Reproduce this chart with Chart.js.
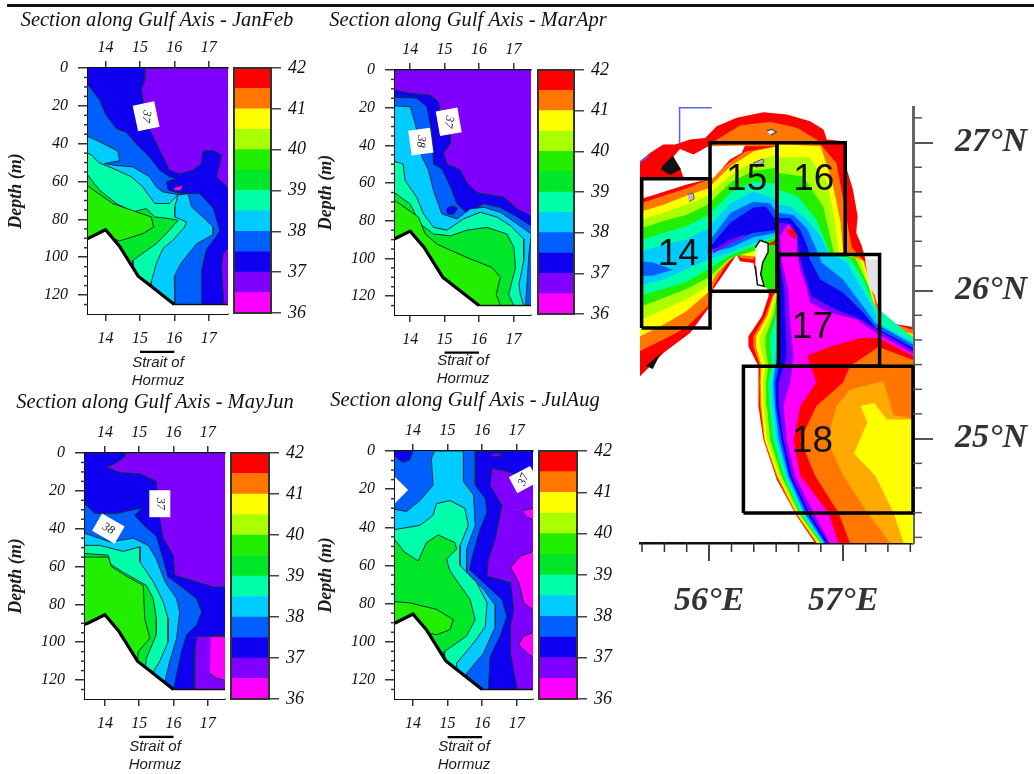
<!DOCTYPE html>
<html>
<head>
<meta charset="utf-8">
<title>Section along Gulf Axis</title>
<script src="https://cdn.jsdelivr.net/npm/chart.js@4"></script>
<style>
    html, body { margin: 0; padding: 0; background: #fff; }
    body { width: 1034px; height: 774px; position: relative; overflow: hidden; }
    #topRule { position: absolute; left: 7px; right: 0; top: 4px; height: 3px; background: #111; }
    .box { position: absolute; }
    .box canvas { filter: blur(0.7px); }
</style>
</head>
<body>
<div id="topRule"></div>
<script>
// salinity scale
const scaleEdges = [36, 36.5, 37, 37.5, 38, 38.5, 39, 39.5, 40, 40.5, 41, 41.5, 42];
const scaleColors = ['#ff00ff', '#8000ff', '#1000f0', '#0060ff', '#00ccff', '#00ffaa', '#00e628', '#22ee00', '#aaff00', '#ffff00', '#ff7700', '#ff0000'];
const scaleTicks = [36, 37, 38, 39, 40, 41, 42];

const sectionTicks = [14, 15, 16, 17];
const depthTicks = [0, 20, 40, 60, 80, 100, 120];
const depthMinor = [5, 10, 15, 25, 30, 35, 45, 50, 55, 65, 70, 75, 85, 90, 95, 105, 110, 115, 125];

// sea bed along the section
const seabedLine = [13.3, 91, 13.5, 90, 14, 85.5, 14.4, 94, 14.95, 110, 15.3, 115, 16, 125];
const seabedFloor = [16, 125, 17.7, 125];
const seabedFill = [13.3, 91, 13.5, 90, 14, 85.5, 14.4, 94, 14.95, 110, 15.3, 115, 16, 125, 17.7, 125, 17.7, 131, 13.3, 131];

// JanFeb contours, [section, depth] pairs
const janFebBack = [13.3, 0, 17.7, 0, 17.7, 125, 13.3, 125];
const janFeb37 = [15.14, 0, 15.14, 6.5, 15.04, 11, 15.09, 17, 15.18, 29, 15.43, 38, 15.67, 47, 15.86, 54, 16.16, 56, 16.54, 54, 16.79, 50.5, 16.83, 44, 17.13, 43.5, 17.37, 46, 17.32, 50.5, 17.22, 57.5, 17.7, 65.5, 17.7, 93, 17.42, 98, 17.37, 105, 17.44, 125, 13.3, 125, 13.3, 0];
const janFebSpot = [16.01, 63, 16.25, 62, 16.2, 64.6, 16.01, 65];
const janFeb375 = [13.3, 5, 13.58, 11, 13.83, 17, 14.02, 25, 14.31, 32, 14.6, 34, 14.94, 41, 15.28, 47, 15.57, 54, 15.86, 57.5, 16.06, 58.5, 15.77, 60, 15.82, 64.5, 16.2, 66.4, 16.74, 66.4, 17.13, 74, 17.32, 86, 17.22, 89, 16.93, 96, 16.79, 107, 16.79, 125, 13.3, 125];
const janFeb38 = [13.3, 34.7, 13.83, 39, 14.36, 44, 14.41, 49, 13.97, 50.5, 14.26, 51.4, 14.8, 52.3, 15.28, 57.5, 15.48, 63, 15.67, 65.5, 15.96, 66.4, 16.16, 67, 16.4, 66.4, 16.5, 73.4, 16.83, 78.7, 17.13, 84, 17.13, 88, 16.64, 93, 16.2, 103, 16, 110, 16.01, 125, 13.3, 125];
const janFeb385 = [13.3, 43.5, 13.6, 46, 13.8, 50, 14.21, 53, 14.75, 57.5, 15.09, 63, 15.43, 71.6, 15.86, 71.6, 16.11, 67, 16.01, 73.4, 16.01, 78.7, 16.35, 81.3, 16.3, 84, 15.96, 91, 15.67, 95.4, 15.48, 103, 15.33, 113, 15.33, 125, 13.3, 125];
const janFeb39 = [13.3, 52, 13.49, 56.7, 13.83, 64.6, 14.31, 71.6, 14.8, 76, 15.18, 74.3, 15.43, 78.7, 15.86, 79.6, 16.11, 80.5, 15.86, 85.7, 15.48, 92.8, 14.8, 101.6, 14.8, 125, 13.3, 125];
const janFeb395 = [13.3, 60, 14.21, 71.6, 14.89, 76, 15.33, 78.7, 15.4, 84, 15.09, 87.5, 14.41, 91.4, 13.83, 87.5, 13.3, 92];

// MarApr contours
const marAprBack = [13.3, 0, 17.7, 0, 17.7, 125, 13.3, 125];
const marApr37 = [13.3, 9.8, 14, 12.4, 14.58, 13.3, 14.83, 17, 14.87, 23, 15.17, 32, 15.17, 39, 14.97, 44, 15.07, 50, 15.46, 53, 15.65, 60, 15.94, 65, 16.72, 67.5, 17.11, 73.7, 17.7, 79, 17.7, 125, 13.3, 125];
const marApr375 = [13.3, 14.2, 14.19, 15, 14.49, 19.5, 14.63, 33.7, 14.68, 50, 14.92, 52.4, 15.17, 62, 15.36, 71, 15.65, 76, 16.14, 71, 16.62, 73, 17.11, 78, 17.7, 85, 17.7, 125, 13.3, 125];
const marAprSpot = [15.05, 74, 15.2, 72, 15.39, 73.3, 15.24, 76.7, 15.08, 76.4];
const marApr38 = [13.3, 18.7, 14, 19.5, 14.15, 28.4, 14.34, 46, 14.53, 53, 14.68, 64, 14.92, 76.4, 15.36, 79, 15.75, 73.7, 16.14, 72.8, 16.62, 75.5, 17.11, 81.7, 17.52, 87, 17.45, 97.7, 17.4, 112, 17.35, 125, 13.3, 125];
const marApr385 = [13.3, 47, 13.8, 50, 13.85, 58.6, 14.19, 67.5, 14.39, 76.4, 14.68, 83.5, 15.07, 85, 15.55, 79, 16.04, 75.5, 16.52, 78, 16.91, 82.6, 17.3, 89.7, 17.3, 101, 17.16, 113.7, 17.2, 119, 17.3, 125, 13.3, 125];
const marApr39 = [13.3, 62, 14, 71, 14.29, 81.7, 14.68, 87, 15.17, 88, 15.65, 85, 16.23, 83.5, 16.81, 87, 17.01, 94, 17.06, 105, 16.86, 119, 17.01, 125, 13.3, 125];
const marApr395 = [13.3, 66, 14.24, 78, 14.44, 87, 14.78, 92.4, 15.65, 99.5, 16.38, 104.8, 16.62, 110, 16.5, 119, 16.62, 125, 13.3, 125];

// MayJun contours
const mayJunBack = [13.3, 0, 17.7, 0, 17.7, 125, 13.3, 125];
const mayJun37 = [14.58, 0, 14.58, 2, 14.29, 5.6, 14.05, 7.4, 14.44, 10.4, 15.02, 11, 15.5, 15, 15.6, 34.7, 15.7, 45, 15.99, 54, 16.04, 64.6, 16.67, 68, 17.15, 70.8, 17.7, 70.8, 17.7, 96.3, 16.67, 97, 16.62, 105, 16.62, 125, 13.3, 125, 13.3, 0];
const mayJun365 = [17.08, 97, 17.7, 97, 17.7, 121, 17.25, 119, 17.06, 116.5];
const mayJun375 = [13.3, 25, 13.71, 32, 14.34, 32, 15.07, 29, 14.87, 33, 15.12, 38, 15.5, 44, 15.7, 56, 15.84, 65.5, 16.18, 70, 16.67, 77, 16.82, 84, 16.67, 91, 16.38, 96, 16.23, 105, 16.09, 117, 16, 125, 13.3, 125];
const mayJun38 = [13.3, 41.7, 14.15, 47, 14.83, 45, 15.26, 48.8, 15.5, 56, 15.75, 68, 16.09, 77, 16.18, 84, 16.09, 98, 15.89, 110, 15.75, 121, 15.7, 125, 13.3, 125];
const mayJun385 = [13.3, 48.8, 13.85, 48.8, 14.53, 52, 15.02, 49.6, 15.02, 57.6, 15.41, 68, 15.7, 78.7, 15.84, 87.5, 15.84, 100, 15.6, 110, 15.41, 115.7, 15.41, 125, 13.3, 125];
const mayJun39 = [13.3, 53, 14.1, 54, 14.15, 58.5, 14.53, 63, 15.02, 68, 15.21, 70, 15.41, 77, 15.5, 87.5, 15.5, 96, 15.21, 108.6, 15.1, 125, 13.3, 125];
const mayJun395 = [13.3, 55, 14.1, 55, 14.19, 60, 14.58, 64.6, 15.12, 70, 15.16, 87.5, 15.31, 98, 14.97, 105, 14.9, 125, 13.3, 125];

// JulAug contours
const julAugBack = [13.3, 0, 17.7, 0, 17.7, 125, 13.3, 125];
const julAug37 = [13.3, 0, 17.7, 0, 17.7, 6.5, 17, 12, 16.28, 9, 16.23, 18, 16.57, 28.5, 16.38, 46, 16.18, 56.7, 16.14, 65.5, 16.82, 69, 16.91, 83, 16.82, 92, 16.82, 106, 17.01, 125, 13.3, 125];
const julAugTop = [16.2, 2, 16.4, 1, 16.6, 2, 16.4, 3];
const julAug375 = [15.8, 0, 15.8, 18, 16.09, 25, 16.14, 32, 15.94, 41, 15.75, 53, 15.63, 62, 16.04, 69, 16.57, 77.8, 16.71, 86.6, 16.52, 97, 16.23, 107.7, 16.18, 125, 13.3, 125, 13.3, 0];
const julAugCorner = [13.3, 0, 14, 0, 13.9, 4.7, 13.71, 6, 13.55, 4];
const julAug38 = [13.3, 30, 13.81, 31.7, 14.2, 26, 14.58, 18, 14.53, 4, 14.63, 0, 15.46, 0, 15.46, 16, 15.75, 23, 15.8, 39, 15.55, 51.4, 15.55, 63.7, 16.04, 72.5, 16.38, 81, 16.38, 92, 16.04, 106, 15.55, 116.5, 15.55, 125, 13.3, 125];
const julAug385 = [13.3, 41.7, 14.2, 39, 14.58, 33.8, 14.68, 27.6, 15.07, 26, 15.5, 30, 15.6, 39, 15.36, 49.6, 15.36, 60, 15.84, 69, 16.14, 79.6, 16.09, 92, 15.75, 100.7, 15.26, 111.3, 15.26, 125, 13.3, 125];
const julAug39 = [13.3, 42.6, 13.76, 53, 14.15, 57.6, 14.39, 48, 14.73, 44, 15.21, 48, 15.26, 51.4, 14.97, 56.7, 15.07, 62.9, 15.65, 77.8, 15.8, 88.4, 15.55, 97, 14.92, 105, 14.9, 125, 13.3, 125];
const julAug395 = [13.3, 78.7, 13.9, 79.6, 14.68, 83, 15.17, 88.4, 15.07, 93.7, 14.68, 96.3, 14.3, 95, 14.3, 125, 13.3, 125];
const julAugLow1 = [17.2, 31, 17.7, 29.4, 17.7, 37.3, 17.3, 34.7];
const julAugLow2 = [17.7, 51.4, 17.11, 55, 16.82, 61, 17.06, 69, 17.2, 79.6, 17.7, 86.6];
const julAugLow3 = [17.7, 93.7, 17.2, 97, 17.06, 101.6, 17.3, 106, 17.7, 110.4];

// map: [lon, lat] pairs
const mapLonTicks = [56, 57];
const mapLatTicks = [25, 26, 27];
const mapLonMinor = [55.5, 55.667, 55.833, 56.167, 56.333, 56.5, 56.667, 56.833, 57.167, 57.333, 57.5];
const mapLatMinor = [24.333, 24.5, 24.667, 24.833, 25.167, 25.333, 25.5, 25.667, 25.833, 26.167, 26.333, 26.5, 26.667, 26.833, 27.167];
const mapCoast = [55.485, 26.874, 55.559, 26.93, 55.659, 26.986, 55.746, 26.986, 55.858, 27.02, 55.97, 27.031, 56.057, 27.11, 56.206, 27.167, 56.405, 27.205, 56.579, 27.189, 56.753, 27.144, 56.853, 27.088, 56.878, 27.02, 57.002, 27.009, 57.027, 26.817, 57.072, 26.682, 57.107, 26.502, 57.097, 26.39, 57.139, 26.3, 57.165, 26.21, 57.19, 26.03, 57.264, 25.894, 57.326, 25.782, 57.512, 25.755, 57.55, 25.489, 57.55, 24.2, 56.79, 24.295, 56.654, 24.475, 56.505, 24.723, 56.405, 24.993, 56.368, 25.219, 56.368, 25.376, 56.368, 25.489, 56.293, 25.624, 56.293, 25.69, 56.393, 25.827, 56.443, 25.962, 56.443, 26.007, 56.355, 26.074, 56.33, 26.187, 56.231, 26.198, 56.206, 26.243, 56.132, 26.142, 56.02, 25.996, 56.007, 25.894, 55.858, 25.714, 55.659, 25.579, 55.485, 25.421, 55.4, 25.421, 55.4, 26.874];

const mapEastOrange = [56.06, 27.02, 56.23, 27.115, 56.455, 27.14, 56.655, 27.10, 56.80, 27.02, 56.95, 26.86, 57.00, 26.615, 57.04, 26.41, 57.065, 26.29, 57.18, 26.175, 57.24, 25.96, 57.28, 25.805, 57.55, 25.725, 57.55, 24.295, 56.80, 24.295, 56.64, 24.50, 56.50, 24.75, 56.41, 24.99, 56.38, 25.22, 56.375, 25.38, 56.38, 25.49, 56.33, 25.62, 56.33, 25.69, 56.42, 25.83, 56.47, 25.96, 56.505, 26.01, 56.505, 26.975, 56.01, 26.975];
const mapEastYellow = [56.52, 26.99, 56.83, 26.975, 56.915, 26.75, 56.98, 26.46, 57.00, 26.255, 57.15, 26.20, 57.23, 25.94, 57.26, 25.77, 57.55, 25.70, 57.55, 24.295, 56.806, 24.295, 56.65, 24.50, 56.51, 24.75, 56.415, 24.99, 56.39, 25.22, 56.385, 25.38, 56.39, 25.49, 56.35, 25.62, 56.35, 25.69, 56.435, 25.83, 56.48, 25.96, 56.52, 26.01];
const mapEastLime = [56.52, 26.90, 56.75, 26.90, 56.88, 26.73, 56.94, 26.46, 56.965, 26.255, 57.13, 26.21, 57.21, 25.96, 57.256, 25.78, 57.55, 25.69, 57.55, 24.295, 56.815, 24.295, 56.655, 24.5, 56.52, 24.75, 56.43, 24.99, 56.405, 25.22, 56.40, 25.38, 56.42, 25.49, 56.38, 25.62, 56.38, 25.69, 56.455, 25.83, 56.49, 25.96, 56.52, 26.01];
const mapEastGreen = [56.52, 26.795, 56.70, 26.77, 56.85, 26.57, 56.93, 26.255, 57.09, 26.22, 57.19, 26.03, 57.25, 25.83, 57.55, 25.67, 57.55, 24.295, 56.83, 24.295, 56.67, 24.5, 56.54, 24.75, 56.455, 24.99, 56.43, 25.22, 56.425, 25.38, 56.44, 25.49, 56.42, 25.62, 56.42, 25.69, 56.48, 25.83, 56.505, 25.96, 56.52, 26.01];
const mapEastTeal = [56.52, 26.68, 56.655, 26.64, 56.80, 26.48, 56.90, 26.255, 57.05, 26.22, 57.15, 26.075, 57.24, 25.89, 57.55, 25.66, 57.55, 24.295, 56.84, 24.295, 56.68, 24.5, 56.555, 24.75, 56.48, 24.99, 56.45, 25.22, 56.44, 25.38, 56.47, 25.49, 56.455, 25.62, 56.455, 25.69, 56.50, 25.83, 56.51, 25.96, 56.52, 26.01];
const mapEastCyan = [56.52, 26.58, 56.605, 26.57, 56.73, 26.48, 56.83, 26.37, 56.89, 26.255, 57.03, 26.19, 57.13, 26.03, 57.23, 25.87, 57.26, 25.78, 57.55, 25.64, 57.55, 24.295, 56.85, 24.295, 56.70, 24.5, 56.575, 24.75, 56.505, 24.99, 56.475, 25.22, 56.47, 25.38, 56.485, 25.49, 56.50, 25.62, 56.51, 25.9];
const mapEastMid = [56.52, 26.525, 56.63, 26.51, 56.73, 26.42, 56.79, 26.30, 56.84, 26.19, 57.00, 26.075, 57.15, 25.89, 57.24, 25.78, 57.55, 25.62, 57.55, 24.295, 56.86, 24.295, 56.71, 24.5, 56.59, 24.75, 56.52, 24.99, 56.49, 25.22, 56.48, 25.38, 56.495, 25.49, 56.52, 25.62];
const mapEastBlue = [56.52, 26.49, 56.605, 26.49, 56.68, 26.41, 56.74, 26.28, 56.75, 26.21, 56.83, 26.075, 57.00, 25.985, 57.15, 25.85, 57.24, 25.75, 57.55, 25.60, 57.55, 24.295, 56.87, 24.295, 56.73, 24.5, 56.60, 24.75, 56.54, 24.99, 56.50, 25.22, 56.495, 25.38, 56.52, 25.49];
const mapEastPurple = [56.52, 26.46, 56.605, 26.45, 56.655, 26.37, 56.67, 26.255, 56.70, 26.14, 56.765, 25.96, 56.95, 25.87, 57.13, 25.805, 57.25, 25.74, 57.55, 25.58, 57.55, 24.295, 56.89, 24.295, 56.745, 24.5, 56.615, 24.75, 56.555, 24.99, 56.52, 25.22, 56.52, 25.38, 56.58, 25.56, 56.57, 25.78, 56.56, 26.01, 56.52, 26.21];
const mapEastMagenta = [56.59, 26.45, 56.655, 26.37, 56.655, 26.255, 56.68, 26.14, 56.73, 26.01, 56.75, 25.92, 56.90, 25.85, 57.10, 25.805, 57.25, 25.71, 57.55, 25.56, 57.55, 24.295, 56.90, 24.295, 56.78, 24.5, 56.64, 24.75, 56.58, 24.99, 56.555, 25.22, 56.605, 25.38, 56.63, 25.56, 56.605, 25.78, 56.59, 26.01, 56.54, 26.21, 56.53, 26.37];
const mapRedSpot = [56.57, 26.41, 56.63, 26.42, 56.655, 26.345, 56.605, 26.37];
const mapSouthRed = [56.73, 25.56, 56.90, 25.62, 57.13, 25.68, 57.26, 25.68, 57.55, 25.545, 57.55, 24.295, 56.965, 24.295, 56.89, 24.5, 56.68, 24.75, 56.63, 24.99, 56.68, 25.22, 56.80, 25.38];
const mapSouthOrange = [57.05, 25.49, 57.20, 25.58, 57.26, 25.62, 57.55, 25.52, 57.55, 24.295, 57.05, 24.295, 56.965, 24.5, 56.79, 24.75, 56.68, 24.99, 56.80, 25.22, 57.00, 25.38];
const mapSouthAmber = [56.95, 25.22, 57.05, 25.33, 57.30, 25.39, 57.375, 25.16, 57.55, 25.13, 57.55, 24.295, 57.35, 24.295, 57.18, 24.5, 57.00, 24.75, 56.88, 24.99];
const mapSouthYellow = [57.13, 25.22, 57.23, 25.24, 57.325, 25.13, 57.55, 25.13, 57.55, 24.295, 57.45, 24.295, 57.375, 24.5, 57.24, 24.75, 57.08, 24.90, 57.18, 25.11];

const mapWestOrange = [55.46, 26.58, 55.66, 26.64, 55.83, 26.69, 55.99, 26.75, 56.16, 26.87, 56.27, 26.94, 56.505, 26.975, 56.505, 26.37, 56.455, 26.345, 56.38, 26.30, 56.33, 26.21, 56.23, 26.22, 56.21, 26.265, 56.12, 26.165, 56.03, 26.03, 56.02, 25.92, 55.83, 25.75, 55.66, 25.67, 55.46, 25.58];
const mapWestYellow = [55.46, 26.525, 55.66, 26.58, 55.83, 26.64, 55.99, 26.69, 56.16, 26.84, 56.33, 26.94, 56.505, 26.975, 56.505, 26.36, 56.405, 26.345, 56.34, 26.23, 56.23, 26.24, 56.19, 26.28, 56.09, 26.165, 56.03, 26.075, 55.99, 25.985, 55.83, 25.86, 55.66, 25.77, 55.46, 25.68];
const mapWestLime = [55.46, 26.47, 55.66, 26.525, 55.83, 26.58, 55.99, 26.64, 56.16, 26.78, 56.33, 26.87, 56.505, 26.92, 56.505, 26.35, 56.37, 26.28, 56.23, 26.255, 56.16, 26.21, 56.06, 26.12, 55.99, 26.03, 55.83, 25.94, 55.66, 25.87, 55.46, 25.79];
const mapWestGreen = [55.46, 26.41, 55.66, 26.47, 55.83, 26.51, 55.99, 26.58, 56.16, 26.73, 56.33, 26.81, 56.505, 26.83, 56.505, 26.345, 56.33, 26.265, 56.16, 26.22, 55.99, 26.085, 55.83, 26.01, 55.66, 25.95, 55.46, 25.88];
const mapWestTeal = [55.46, 26.33, 55.66, 26.39, 55.83, 26.435, 55.99, 26.51, 56.16, 26.66, 56.33, 26.74, 56.505, 26.72, 56.505, 26.36, 56.33, 26.30, 56.16, 26.24, 55.99, 26.14, 55.83, 26.06, 55.66, 26.01, 55.46, 25.96];
const mapWestCyan = [55.46, 26.255, 55.66, 26.31, 55.83, 26.345, 55.99, 26.42, 56.16, 26.59, 56.33, 26.67, 56.505, 26.615, 56.505, 26.37, 56.33, 26.32, 56.16, 26.255, 55.99, 26.21, 55.83, 26.14, 55.66, 26.075, 55.46, 26.03];
const mapWestMidA = [55.46, 26.20, 55.58, 26.19, 55.73, 26.14, 55.58, 26.10, 55.46, 26.10];
const mapWestMidB = [55.99, 26.32, 56.16, 26.525, 56.33, 26.60, 56.455, 26.59, 56.505, 26.525, 56.505, 26.39, 56.33, 26.36, 56.16, 26.29, 55.99, 26.255];
const mapWestBlue = [56.01, 26.30, 56.16, 26.46, 56.33, 26.56, 56.42, 26.57, 56.505, 26.47, 56.505, 26.41, 56.33, 26.39, 56.16, 26.33, 56.03, 26.28];
const mapWestPurple = [56.03, 26.27, 56.16, 26.345, 56.27, 26.38, 56.26, 26.36, 56.16, 26.32, 56.03, 26.25];
const mapStraitGreen = [56.36, 26.31, 56.505, 26.31, 56.505, 26.01, 56.44, 26.01, 56.36, 26.05];

const mapIsland = [55.51, 26.626, 55.51, 26.75, 55.808, 26.768, 55.783, 26.829, 55.684, 26.851, 55.783, 26.957, 55.883, 26.919, 55.995, 26.975, 56.268, 26.98, 56.243, 26.93, 56.156, 26.885, 56.032, 26.761, 55.833, 26.716, 55.559, 26.637];
const mapStraitLand = [56.345, 26.29, 56.38, 26.34, 56.44, 26.32, 56.44, 26.26, 56.40, 26.19, 56.385, 26.11, 56.41, 26.03, 56.36, 26.04, 56.345, 26.165];
const mapLarak = [56.43, 27.08, 56.47, 27.09, 56.5, 27.07, 56.46, 27.05];
const mapRockA = [55.84, 26.65, 55.88, 26.66, 55.89, 26.62, 55.85, 26.60];
const mapRockB = [56.33, 26.86, 56.4, 26.89, 56.41, 26.87, 56.35, 26.83];
const mapRockC = [57.165, 26.21, 57.26, 26.21, 57.26, 25.94, 57.19, 26.03];
const mapBlackA = [55.66, 26.85, 55.73, 26.91, 55.79, 26.82, 55.71, 26.78, 55.64, 26.82];
const mapBlackB = [55.53, 25.49, 55.66, 25.59, 55.63, 25.56, 55.58, 25.47];
const mapBracket = [55.78, 26.995, 55.78, 27.235, 56.02, 27.235];
const mapBracketTail = [55.485, 26.87, 55.55, 26.91];

const boxNames = ['14', '15', '16', '17', '18'];
const boxLon = [[55.497, 56.007], [56.007, 56.505], [56.505, 57.015], [56.517, 57.271], [56.256, 57.52]];
const boxLat = [[25.748, 26.755], [25.995, 26.998], [26.243, 26.998], [25.489, 26.243], [24.498, 25.489]];
const boxLabelLon = [55.77, 56.28, 56.78, 56.77, 56.77];
const boxLabelLat = [26.24, 26.75, 26.75, 25.75, 24.98];

const DARK = '#1c1c1c';
const SERIF = '"Liberation Serif", serif';
const SANS = '"Liberation Sans", sans-serif';
const TITLE_SIZE = 20.5;

const pts = flat => {
    const out = [];
    for (let i = 0; i < flat.length; i += 2) out.push({ x: flat[i], y: flat[i + 1] });
    return out;
};

const colorFor = level => scaleColors[scaleEdges.indexOf(level)];

// rotated white contour labels, plain text, small tick marks and frames
const extrasPlugin = {
    id: 'extras',
    afterDraw(chart, args, opts) {
        const ctx = chart.ctx;
        const area = chart.chartArea;
        const sx = chart.scales.x;
        const sy = chart.scales.y;

        (opts.minorY || []).forEach(v => {
            const y = sy.getPixelForValue(v);
            const x0 = opts.minorYAt === 'right' ? area.right : area.left;
            const len = opts.minorYAt === 'right' ? opts.minorLen : -opts.minorLen;
            ctx.save();
            ctx.strokeStyle = opts.minorColor || '#333';
            ctx.lineWidth = 1.5;
            ctx.beginPath();
            ctx.moveTo(x0, y);
            ctx.lineTo(x0 + len, y);
            ctx.stroke();
            ctx.restore();
        });
        (opts.minorX || []).forEach(v => {
            const x = sx.getPixelForValue(v);
            ctx.save();
            ctx.strokeStyle = '#333';
            ctx.lineWidth = 1.5;
            ctx.beginPath();
            ctx.moveTo(x, area.bottom);
            ctx.lineTo(x, area.bottom + opts.minorLen);
            ctx.stroke();
            ctx.restore();
        });

        (opts.tags || []).forEach(t => {
            ctx.save();
            ctx.beginPath();
            ctx.rect(area.left, area.top, area.width, area.height);
            ctx.clip();
            ctx.translate(sx.getPixelForValue(t.x), sy.getPixelForValue(t.y));
            ctx.rotate(t.boxAngle * Math.PI / 180);
            ctx.fillStyle = '#fff';
            ctx.fillRect(-t.w / 2, -t.h / 2, t.w, t.h);
            if (t.text) {
                ctx.rotate((t.textAngle - t.boxAngle) * Math.PI / 180);
                ctx.fillStyle = '#222';
                ctx.font = 'italic 12px ' + SERIF;
                ctx.textAlign = 'center';
                ctx.textBaseline = 'middle';
                ctx.fillText(t.text, 0, 0);
            }
            ctx.restore();
        });

        (opts.texts || []).forEach(t => {
            ctx.save();
            ctx.fillStyle = '#111';
            ctx.font = t.font;
            ctx.textAlign = 'center';
            ctx.textBaseline = 'middle';
            ctx.fillText(t.text, sx.getPixelForValue(t.x), sy.getPixelForValue(t.y));
            ctx.restore();
        });

        if (opts.frame) {
            ctx.save();
            ctx.strokeStyle = '#333';
            ctx.lineWidth = 2;
            ctx.strokeRect(area.left, area.top, area.width, area.height);
            ctx.restore();
        }
    }
};
Chart.register(extrasPlugin);

function makeCanvas(left, top, width, height) {
    const box = document.createElement('div');
    box.className = 'box';
    box.style.cssText = `left:${left}px;top:${top}px;width:${width}px;height:${height}px;`;
    const canvas = document.createElement('canvas');
    canvas.width = width;
    canvas.height = height;
    canvas.style.cssText = `display:block;width:${width}px;height:${height}px;`;
    box.appendChild(canvas);
    document.body.appendChild(box);
    return canvas;
}

// the axes must not reserve room for overhanging tick labels
function noOverhang(s) {
    s.paddingTop = 0;
    s.paddingBottom = 0;
    s.paddingLeft = 0;
    s.paddingRight = 0;
}

// painter's order: later entries go on top
function polygonSets(list, lineColor, lineWidth) {
    return list.map((item, i) => ({
        data: pts(item.points),
        showLine: true,
        pointRadius: 0,
        fill: item.color ? 'shape' : false,
        backgroundColor: item.color || 'transparent',
        borderColor: item.line || lineColor,
        borderWidth: item.width !== undefined ? item.width : lineWidth,
        order: -i
    }));
}

function sectionPanel(p) {
    const canvas = makeCanvas(p.left, p.top, p.width, p.height);
    const titleH = TITLE_SIZE * 1.2;
    const topAxis = p.plotTop - p.top - titleH;
    const bottomAxis = p.top + p.height - p.plotBottom;
    const bands = p.bands.map(b => ({ points: b[1], color: colorFor(b[0]) }));
    const overlays = [
        { points: seabedFill, color: '#ffffff', width: 0 },
        { points: seabedFloor, line: '#111', width: 1.5 },
        { points: seabedLine, line: '#000', width: 3.2 }
    ];
    const sets = polygonSets(bands.concat(overlays), '#0b3540', 1);
    // bar above the Strait of Hormuz label
    sets.push({
        data: [{ x: 15, y: 150 }, { x: 16, y: 150 }],
        showLine: true, pointRadius: 0, fill: false,
        borderColor: '#000', borderWidth: 2.2, clip: false, order: -500
    });

    const tickFont = { family: SERIF, size: 16, style: 'italic', weight: 'normal' };
    const xAxis = position => ({
        type: 'linear',
        axis: 'x',
        position: position,
        min: p.xMin,
        max: p.xMax,
        z: 1,
        afterBuildTicks: s => { s.ticks = sectionTicks.map(v => ({ value: v })); },
        afterFit: s => {
            s.height = position === 'top' ? topAxis : bottomAxis;
            noOverhang(s);
        },
        grid: { drawOnChartArea: false, tickLength: 7, color: '#333', lineWidth: 1.5 },
        border: { display: true, color: '#111', width: 2 },
        ticks: { color: '#111', font: tickFont, padding: position === 'top' ? 4 : 8, maxRotation: 0, autoSkip: false },
        title: position === 'top' ? { display: false } : {
            display: true,
            text: ['Strait of', 'Hormuz'],
            color: DARK,
            font: { family: SANS, size: 15, style: 'italic' },
            padding: { top: 0, bottom: 0 }
        }
    });

    new Chart(canvas, {
        type: 'scatter',
        data: { datasets: sets },
        options: {
            animation: false,
            responsive: false,
            layout: { padding: 0 },
            plugins: {
                legend: { display: false },
                tooltip: { enabled: false },
                title: {
                    display: true,
                    text: p.title,
                    color: '#111',
                    font: { family: SERIF, size: TITLE_SIZE, style: 'italic', weight: 'normal' },
                    padding: 0
                },
                extras: { minorY: depthMinor, minorLen: 4, tags: p.tags }
            },
            scales: {
                x: xAxis('bottom'),
                xTop: xAxis('top'),
                y: {
                    type: 'linear',
                    reverse: true,
                    min: 0,
                    max: 130,
                    z: 1,
                    afterBuildTicks: s => { s.ticks = depthTicks.map(v => ({ value: v })); },
                    afterFit: s => {
                        s.width = p.plotLeft - p.left;
                        noOverhang(s);
                    },
                    grid: { drawOnChartArea: false, tickLength: 10, color: '#333', lineWidth: 1.5 },
                    border: { display: true, color: '#111', width: 2 },
                    ticks: { color: '#111', font: tickFont, padding: 10, autoSkip: false },
                    title: {
                        display: true,
                        text: 'Depth (m)',
                        color: DARK,
                        font: { family: SERIF, size: 18, style: 'italic', weight: 'bold' },
                        padding: { top: 6, bottom: 0 }
                    }
                },
                // empty axis that keeps the plot short of the colour bar
                gap: {
                    type: 'linear',
                    axis: 'y',
                    position: 'right',
                    afterFit: s => {
                        s.width = p.left + p.width - p.plotRight;
                        noOverhang(s);
                    },
                    grid: { display: false },
                    border: { display: false },
                    ticks: { display: false }
                }
            }
        }
    });
}

function colorBar(b) {
    const canvas = makeCanvas(b.left, b.top - 10, b.width + 50, b.height + 20);
    const sets = scaleColors.map((c, i) => ({
        data: [[scaleEdges[i], scaleEdges[i + 1]]],
        backgroundColor: c,
        borderWidth: 0,
        grouped: false,
        barPercentage: 1,
        categoryPercentage: 1
    }));
    new Chart(canvas, {
        type: 'bar',
        data: { labels: ['salinity'], datasets: sets },
        options: {
            animation: false,
            responsive: false,
            layout: { padding: { top: 10, bottom: 10, left: 1 } },
            plugins: {
                legend: { display: false },
                tooltip: { enabled: false },
                extras: { frame: true }
            },
            scales: {
                x: { display: false },
                y: {
                    position: 'right',
                    min: 36,
                    max: 42,
                    afterBuildTicks: s => { s.ticks = scaleTicks.map(v => ({ value: v })); },
                    afterFit: s => {
                        s.width = 49;
                        noOverhang(s);
                    },
                    grid: { drawOnChartArea: false, tickLength: 10, color: '#444', lineWidth: 1.5 },
                    border: { display: false },
                    ticks: { color: '#111', font: { family: SERIF, size: 18, style: 'italic' }, padding: 7, autoSkip: false }
                }
            }
        }
    });
}

function mapPanel() {
    const canvas = makeCanvas(630, 90, 404, 530);
    const c = scaleColors;
    const RED = c[11], ORANGE = c[10], YELLOW = c[9], LIME = c[8], GREEN = c[7], TEAL = c[5], CYAN = c[4], MID = c[3], BLUE = c[2], PURPLE = c[1], MAGENTA = c[0];
    const layers = [
        { points: mapCoast, color: RED },
        { points: mapEastOrange, color: ORANGE },
        { points: mapWestOrange, color: ORANGE },
        { points: mapEastYellow, color: YELLOW },
        { points: mapWestYellow, color: YELLOW },
        { points: mapEastLime, color: LIME },
        { points: mapWestLime, color: LIME },
        { points: mapEastGreen, color: GREEN },
        { points: mapWestGreen, color: GREEN },
        { points: mapEastTeal, color: TEAL },
        { points: mapWestTeal, color: TEAL },
        { points: mapEastCyan, color: CYAN },
        { points: mapWestCyan, color: CYAN },
        { points: mapEastMid, color: MID },
        { points: mapWestMidA, color: MID },
        { points: mapWestMidB, color: MID },
        { points: mapEastBlue, color: BLUE },
        { points: mapWestBlue, color: BLUE },
        { points: mapWestPurple, color: PURPLE },
        { points: mapEastPurple, color: PURPLE },
        { points: mapEastMagenta, color: MAGENTA },
        { points: mapRedSpot, color: RED },
        { points: mapSouthRed, color: RED },
        { points: mapSouthOrange, color: ORANGE },
        { points: mapSouthAmber, color: '#ffaa00' },
        { points: mapSouthYellow, color: YELLOW },
        { points: mapStraitGreen, color: GREEN },
        { points: mapIsland, color: '#ffffff' },
        { points: mapStraitLand, color: '#ffffff', line: '#111', width: 1.5 },
        { points: mapLarak, color: '#eeeeee', line: '#555', width: 1.5 },
        { points: mapRockA, color: '#bbbbbb', line: '#555', width: 1 },
        { points: mapRockB, color: '#bbbbbb', line: '#555', width: 1 },
        { points: mapRockC, color: '#e4e4e4' },
        { points: mapBlackA, color: '#111111' },
        { points: mapBlackB, color: '#111111' },
        { points: mapBracket, line: '#5566ff', width: 1.5 },
        { points: mapBracketTail, line: '#5566ff', width: 1.5 }
    ];
    boxNames.forEach((name, i) => {
        const lon = boxLon[i], lat = boxLat[i];
        layers.push({
            points: [lon[0], lat[0], lon[1], lat[0], lon[1], lat[1], lon[0], lat[1], lon[0], lat[0]],
            line: '#000',
            width: 3.5
        });
    });
    const sets = polygonSets(layers, 'transparent', 0);
    sets.forEach(s => { s.clip = 3; });
    const labelFont = { family: SERIF, size: 34, style: 'italic', weight: 'bold' };

    new Chart(canvas, {
        type: 'scatter',
        data: { datasets: sets },
        options: {
            animation: false,
            responsive: false,
            layout: { padding: { left: 10, top: 17 } },
            plugins: {
                legend: { display: false },
                tooltip: { enabled: false },
                extras: {
                    minorY: mapLatMinor,
                    minorYAt: 'right',
                    minorX: mapLonMinor,
                    minorLen: 9,
                    minorColor: '#555',
                    texts: boxNames.map((name, i) => ({
                        text: name,
                        x: boxLabelLon[i],
                        y: boxLabelLat[i],
                        font: '37px ' + SANS
                    }))
                }
            },
            scales: {
                x: {
                    type: 'linear',
                    position: 'bottom',
                    min: 55.485,
                    max: 57.52,
                    z: 1,
                    afterBuildTicks: s => { s.ticks = mapLonTicks.map(v => ({ value: v })); },
                    afterFit: s => {
                        s.height = 77;
                        noOverhang(s);
                    },
                    grid: { drawOnChartArea: false, tickLength: 18, color: '#444', lineWidth: 2 },
                    border: { display: true, color: '#111', width: 2.5 },
                    ticks: { color: '#333', font: labelFont, padding: 20, maxRotation: 0, autoSkip: false, callback: v => v + '°E' }
                },
                y: {
                    type: 'linear',
                    position: 'right',
                    min: 24.295,
                    max: 27.24,
                    z: 1,
                    afterBuildTicks: s => { s.ticks = mapLatTicks.map(v => ({ value: v })); },
                    afterFit: s => {
                        s.width = 121;
                        noOverhang(s);
                    },
                    grid: { drawOnChartArea: false, tickLength: 20, color: '#555', lineWidth: 2 },
                    border: { display: true, color: '#666', width: 3 },
                    ticks: { color: '#333', font: labelFont, padding: 22, autoSkip: false, callback: v => v + '°N' }
                }
            }
        }
    });
}

const tagJanFeb = [{ x: 15.18, y: 25.5, w: 22, h: 26, boxAngle: -12, textAngle: 100, text: '37' }];
const tagMarApr = [
    { x: 15.12, y: 27.5, w: 22, h: 25, boxAngle: -10, textAngle: 100, text: '37' },
    { x: 14.31, y: 38, w: 22, h: 25, boxAngle: -8, textAngle: 95, text: '38' }
];
const tagMayJun = [
    { x: 15.6, y: 26.8, w: 21, h: 27, boxAngle: 0, textAngle: 90, text: '37' },
    { x: 14.1, y: 40, w: 26, h: 20, boxAngle: 30, textAngle: 30, text: '38' }
];
const tagJulAug = [
    { x: 17.2, y: 15, w: 24, h: 18, boxAngle: -28, textAngle: -70, text: '37' },
    { x: 13.45, y: 20.5, w: 20, h: 20, boxAngle: 45, textAngle: 0, text: '' }
];

sectionPanel({
    title: 'Section along Gulf Axis - JanFeb',
    left: 0, top: 8, width: 314, height: 382,
    plotLeft: 88, plotRight: 228, plotTop: 68, plotBottom: 314,
    xMin: 13.49, xMax: 17.56,
    bands: [[36.5, janFebBack], [37, janFeb37], [36, janFebSpot], [37.5, janFeb375], [38, janFeb38], [38.5, janFeb385], [39, janFeb39], [39.5, janFeb395]],
    tags: tagJanFeb
});
sectionPanel({
    title: 'Section along Gulf Axis - MarApr',
    left: 310, top: 8, width: 316, height: 380,
    plotLeft: 395, plotRight: 531, plotTop: 70, plotBottom: 315,
    xMin: 13.56, xMax: 17.51,
    bands: [[36.5, marAprBack], [37, marApr37], [37.5, marApr375], [37, marAprSpot], [38, marApr38], [38.5, marApr385], [39, marApr39], [39.5, marApr395]],
    tags: tagMarApr
});
sectionPanel({
    title: 'Section along Gulf Axis - MayJun',
    left: 0, top: 390, width: 310, height: 384,
    plotLeft: 85, plotRight: 225, plotTop: 453, plotBottom: 699,
    xMin: 13.42, xMax: 17.5,
    bands: [[36.5, mayJunBack], [37, mayJun37], [36, mayJun365], [37.5, mayJun375], [38, mayJun38], [38.5, mayJun385], [39, mayJun39], [39.5, mayJun395]],
    tags: tagMayJun
});
sectionPanel({
    title: 'Section along Gulf Axis - JulAug',
    left: 310, top: 388, width: 310, height: 386,
    plotLeft: 395, plotRight: 533, plotTop: 451, plotBottom: 699,
    xMin: 13.48, xMax: 17.47,
    bands: [[36.5, julAugBack], [36, julAugLow1], [36, julAugLow2], [36, julAugLow3], [37, julAug37], [36.5, julAugTop], [37.5, julAug375], [37, julAugCorner], [38, julAug38], [38.5, julAug385], [39, julAug39], [39.5, julAug395]],
    tags: tagJulAug
});

colorBar({ left: 233, top: 68, width: 37, height: 245 });
colorBar({ left: 537, top: 70, width: 36, height: 244 });
colorBar({ left: 230, top: 453, width: 38, height: 246 });
colorBar({ left: 538, top: 451, width: 38, height: 248 });

mapPanel();
</script>
</body>
</html>
